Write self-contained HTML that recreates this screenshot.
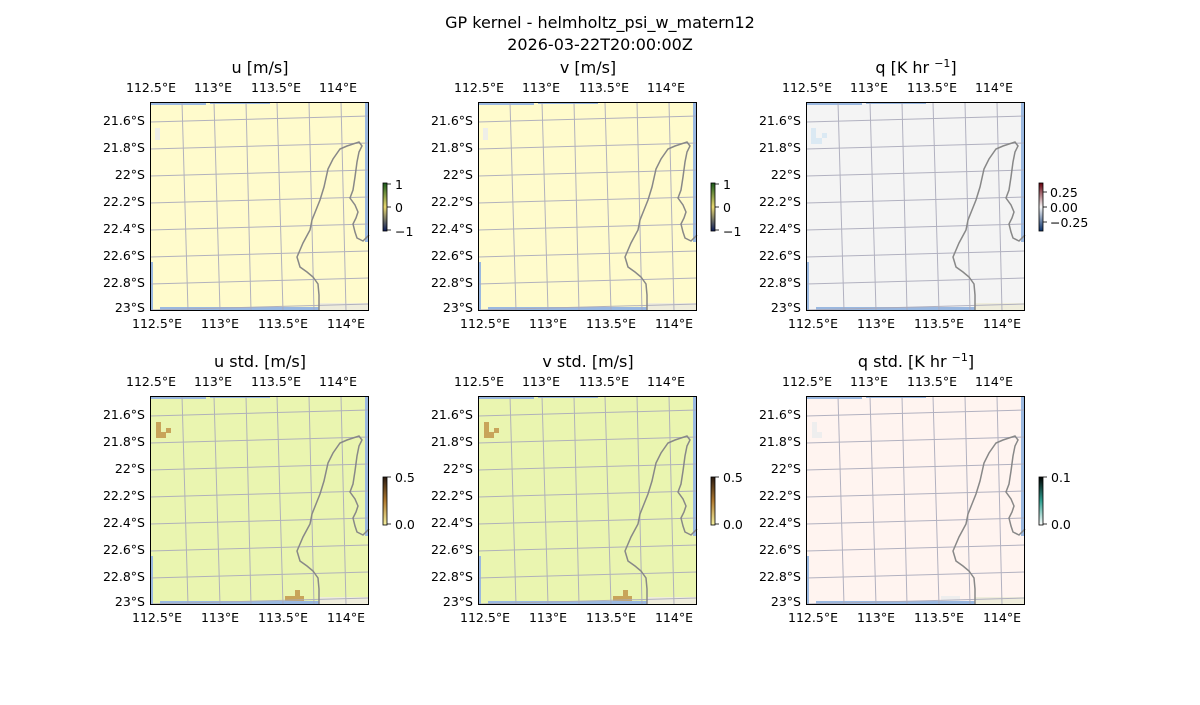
<!DOCTYPE html>
<html><head><meta charset="utf-8"><style>
body{margin:0;background:#fff}
svg text{font-family:"DejaVu Sans","Liberation Sans",sans-serif;fill:#000}
</style></head><body>
<svg width="1200" height="700" xmlns="http://www.w3.org/2000/svg">
<defs>
<g id="deco">
 <rect x="0" y="0" width="56" height="3" fill="#9ab8e0"/>
 <rect x="60" y="0" width="60" height="2" fill="#9ab8e0"/>
 <rect x="215" y="0" width="4" height="140" fill="#9ab8e0"/>
 <rect x="0" y="160" width="3" height="49" fill="#9ab8e0"/>
 <rect x="10" y="205" width="160" height="4" fill="#9ab8e0"/>
 <rect x="169" y="201" width="50" height="8" fill="#efeddc"/>
 <g stroke="#aaaabb" stroke-width="1" fill="none" opacity="0.9">
  <line x1="32" y1="0" x2="38" y2="209"/>
  <line x1="64" y1="0" x2="70" y2="209"/>
  <line x1="96" y1="0" x2="101" y2="209"/>
  <line x1="127" y1="0" x2="133" y2="209"/>
  <line x1="159" y1="0" x2="164" y2="209"/>
  <line x1="191" y1="0" x2="196" y2="209"/>
  <line x1="0" y1="20" x2="219" y2="14"/>
  <line x1="0" y1="47" x2="219" y2="41"/>
  <line x1="0" y1="74" x2="219" y2="68"/>
  <line x1="0" y1="101" x2="219" y2="95"/>
  <line x1="0" y1="128" x2="219" y2="122"/>
  <line x1="0" y1="155" x2="219" y2="149"/>
  <line x1="0" y1="182" x2="219" y2="176"/>
  <line x1="0" y1="208" x2="219" y2="202"/>
 </g>
 <path d="M169,209 L169,193 L168,182 L163,175 L157,170 L150,165 L147,155 L150,148 L153,141 L160,128 L162,118 L166,108 L170,98 L174,85 L178,67 L183,57 L190,47 L197,44 L209,40 L212,44 L209,50 L207,60 L205,75 L203,88 L200,96 L205,103 L208,110 L206,116 L203,122 L205,130 L207,136 L213,139 L219,133" fill="none" stroke="#888" stroke-width="1.5"/>
 <rect x="0.5" y="0.5" width="218" height="208" fill="none" stroke="#000" stroke-width="1"/>
</g>
<linearGradient id="gcb" x1="0" y1="1" x2="0" y2="0"><stop offset="0" stop-color="#0a1a5a"/><stop offset="0.5" stop-color="#e8d870"/><stop offset="1" stop-color="#1a5a1a"/></linearGradient>
<linearGradient id="gstd" x1="0" y1="1" x2="0" y2="0"><stop offset="0" stop-color="#f5f0a0"/><stop offset="0.5" stop-color="#b07a30"/><stop offset="1" stop-color="#2a1a10"/></linearGradient>
<linearGradient id="gq" x1="0" y1="1" x2="0" y2="0"><stop offset="0" stop-color="#08306b"/><stop offset="0.5" stop-color="#f7f7f7"/><stop offset="1" stop-color="#67000d"/></linearGradient>
<linearGradient id="gqs" x1="0" y1="1" x2="0" y2="0"><stop offset="0" stop-color="#fff"/><stop offset="0.5" stop-color="#30a090"/><stop offset="1" stop-color="#000"/></linearGradient>
<g id="cbt" stroke="#000" stroke-width="0.8"><line x1="387" y1="0" x2="391" y2="0"/></g>
</defs>

<text x="600" y="28" font-size="16" text-anchor="middle">GP kernel - helmholtz_psi_w_matern12</text>
<text x="600" y="50" font-size="16" text-anchor="middle">2026-03-22T20:00:00Z</text>

<rect x="150" y="102" width="219" height="209" fill="#fffbcc"/>
<rect x="478" y="102" width="219" height="209" fill="#fffbcc"/>
<rect x="806" y="102" width="219" height="209" fill="#f4f4f4"/>
<rect x="150" y="396" width="219" height="209" fill="#eaf5b0"/>
<rect x="478" y="396" width="219" height="209" fill="#eaf5b0"/>
<rect x="806" y="396" width="219" height="209" fill="#fff4f0"/>
<g fill="#eeeee8"><rect x="155" y="128" width="5" height="12"/><rect x="483" y="128" width="5" height="12"/></g>
<g fill="#dbe9f3"><rect x="811" y="128" width="5" height="16"/><rect x="816" y="138" width="6" height="6"/><rect x="822" y="133" width="5" height="5"/></g>
<g fill="#c8a45a">
 <rect x="156" y="422" width="5" height="16"/><rect x="161" y="432" width="5" height="6"/><rect x="166" y="428" width="5" height="5"/>
 <rect x="285" y="596" width="19" height="6"/><rect x="295" y="590" width="5" height="6"/>
 <rect x="484" y="422" width="5" height="16"/><rect x="489" y="432" width="5" height="6"/><rect x="494" y="428" width="5" height="5"/>
 <rect x="613" y="596" width="19" height="6"/><rect x="623" y="590" width="5" height="6"/>
</g>
<g fill="#eeeeee"><rect x="812" y="422" width="5" height="16"/><rect x="817" y="432" width="5" height="6"/><rect x="941" y="596" width="19" height="6"/></g>

<use href="#deco" x="150" y="102"/>
<use href="#deco" x="478" y="102"/>
<use href="#deco" x="806" y="102"/>
<use href="#deco" x="150" y="396"/>
<use href="#deco" x="478" y="396"/>
<use href="#deco" x="806" y="396"/>

<g font-size="16" text-anchor="middle">
<text x="260" y="73">u [m/s]</text>
<text x="588" y="73">v [m/s]</text>
<text x="916" y="73">q [K hr <tspan font-size="11" dy="-6">−1</tspan><tspan dy="6">]</tspan></text>
<text x="260" y="367">u std. [m/s]</text>
<text x="588" y="367">v std. [m/s]</text>
<text x="916" y="367">q std. [K hr <tspan font-size="11" dy="-6">−1</tspan><tspan dy="6">]</tspan></text>
</g>

<g font-size="12.5" text-anchor="middle" id="ticks">
<text x="151" y="92">112.5°E</text><text x="213" y="92">113°E</text><text x="276" y="92">113.5°E</text><text x="338" y="92">114°E</text>
<text x="157" y="328">112.5°E</text><text x="220" y="328">113°E</text><text x="283" y="328">113.5°E</text><text x="346" y="328">114°E</text>
<g text-anchor="end">
<text x="145" y="125">21.6°S</text><text x="145" y="152">21.8°S</text><text x="145" y="179">22°S</text><text x="145" y="206">22.2°S</text><text x="145" y="233">22.4°S</text><text x="145" y="260">22.6°S</text><text x="145" y="287">22.8°S</text><text x="145" y="312">23°S</text>
</g>
</g>
<use href="#ticks" x="328" y="0"/><use href="#ticks" x="656" y="0"/>
<use href="#ticks" x="0" y="294"/><use href="#ticks" x="328" y="294"/><use href="#ticks" x="656" y="294"/>

<g font-size="12.5">
<rect x="383" y="183" width="4" height="48" fill="url(#gcb)" stroke="#000" stroke-width="0.8"/>
<use href="#cbt" y="184"/><use href="#cbt" y="207"/><use href="#cbt" y="230"/>
<text x="395" y="189">1</text><text x="395" y="212">0</text><text x="395" y="236">−1</text>
<rect x="711" y="183" width="4" height="48" fill="url(#gcb)" stroke="#000" stroke-width="0.8"/>
<use href="#cbt" x="328" y="184"/><use href="#cbt" x="328" y="207"/><use href="#cbt" x="328" y="230"/>
<text x="723" y="189">1</text><text x="723" y="212">0</text><text x="723" y="236">−1</text>
<rect x="1039" y="183" width="4" height="48" fill="url(#gq)" stroke="#000" stroke-width="0.8"/>
<use href="#cbt" x="656" y="192"/><use href="#cbt" x="656" y="207"/><use href="#cbt" x="656" y="222"/>
<text x="1050" y="197">0.25</text><text x="1050" y="212">0.00</text><text x="1050" y="227">−0.25</text>
<rect x="383" y="477" width="4" height="48" fill="url(#gstd)" stroke="#000" stroke-width="0.8"/>
<use href="#cbt" y="477"/><use href="#cbt" y="524"/>
<text x="395" y="482">0.5</text><text x="395" y="529">0.0</text>
<rect x="711" y="477" width="4" height="48" fill="url(#gstd)" stroke="#000" stroke-width="0.8"/>
<use href="#cbt" x="328" y="477"/><use href="#cbt" x="328" y="524"/>
<text x="723" y="482">0.5</text><text x="723" y="529">0.0</text>
<rect x="1039" y="477" width="4" height="48" fill="url(#gqs)" stroke="#000" stroke-width="0.8"/>
<use href="#cbt" x="656" y="477"/><use href="#cbt" x="656" y="524"/>
<text x="1051" y="482">0.1</text><text x="1051" y="529">0.0</text>
</g>
</svg>
</body></html>
